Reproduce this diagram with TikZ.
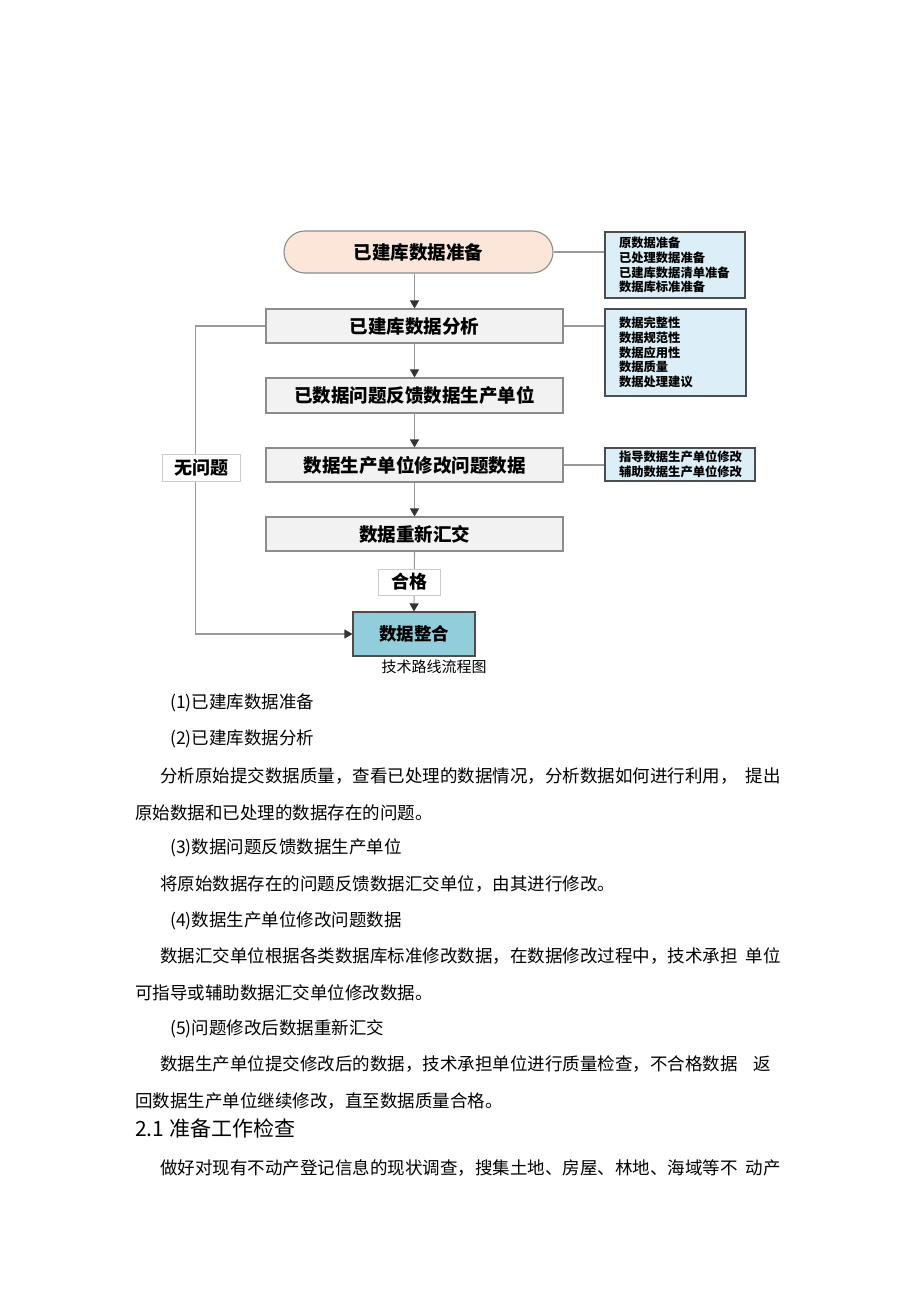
\documentclass[tikz,border=0pt]{standalone}
\usepackage{fontspec}
\setmainfont{Noto Sans CJK SC}
\usetikzlibrary{arrows.meta}
\definecolor{pinkfill}{HTML}{FCE6DA}
\definecolor{boxfill}{HTML}{F2F2F2}
\definecolor{boxline}{HTML}{8C8C8C}
\definecolor{notefill}{HTML}{DCEEF7}
\definecolor{noteline}{HTML}{4D4D4D}
\definecolor{endfill}{HTML}{92CDDC}
\definecolor{conn}{HTML}{999999}
\tikzset{
  stepbox/.style={draw=boxline, line width=1.1pt, fill=boxfill, minimum width=297pt, minimum height=34pt, inner sep=0pt, font=\fontsize{18.5}{20}\selectfont\bfseries},
  startbox/.style={draw=boxline, line width=1.1pt, fill=pinkfill, rounded corners=21pt, minimum width=269pt, minimum height=42pt, inner sep=0pt, font=\fontsize{18.5}{20}\selectfont\bfseries},
  endbox/.style={draw=noteline, line width=1.1pt, fill=endfill, minimum width=122pt, minimum height=44pt, inner sep=0pt, font=\fontsize{17.5}{20}\selectfont\bfseries},
  notebox/.style={draw=noteline, line width=1.1pt, fill=notefill, align=left, inner xsep=14pt, inner ysep=0pt, font=\fontsize{12.3}{14.8}\selectfont\bfseries},
  tagbox/.style={draw=black!20, line width=0.8pt, fill=white, inner sep=0pt, font=\fontsize{18}{20}\selectfont\bfseries},
  arr/.style={draw=conn, line width=1.1pt, -{Triangle[length=8pt,width=9pt,color=black!80]}},
  link/.style={draw=conn, line width=1.1pt},
  body/.style={anchor=base west, inner sep=0pt, font=\fontsize{17.5}{20}\selectfont},
  bodyr/.style={anchor=base east, inner sep=0pt, font=\fontsize{17.5}{20}\selectfont}
}
\begin{document}
\begin{tikzpicture}[x=1pt,y=-1pt]
\fill[white] (0,0) rectangle (920,1303);
\useasboundingbox (0,0) rectangle (920,1303);

% main flow
\node[startbox] (b1) at (418.5,252) {已建库数据准备};
\node[stepbox] (b2) at (414.5,326) {已建库数据分析};
\node[stepbox, minimum height=35pt] (b3) at (414.5,395.5) {已数据问题反馈数据生产单位};
\node[stepbox] (b4) at (414.5,465) {数据生产单位修改问题数据};
\node[stepbox] (b5) at (414.5,534) {数据重新汇交};
\node[endbox] (b6) at (414,634) {数据整合};

% notes
\node[notebox, text width=112pt, minimum height=66pt] (r1) at (675,265) {原数据准备\\已处理数据准备\\已建库数据清单准备\\数据库标准准备};
\node[notebox, text width=113pt, minimum height=87pt] (r2) at (675.5,352.5) {数据完整性\\数据规范性\\数据应用性\\数据质量\\数据处理建议};
\node[notebox, text width=122pt, minimum height=33pt] (r3) at (680,464.5) {指导数据生产单位修改\\辅助数据生产单位修改};

\draw[link] (b1.east) -- (b1.east -| r1.west);
\draw[link] (b2.east) -- (b2.east -| r2.west);
\draw[link] (b4.east) -- (b4.east -| r3.west);

% arrows
\draw[arr] (b2.north |- b1.south) -- (b2.north);
\draw[arr] (b2.south) -- (b3.north);
\draw[arr] (b3.south) -- (b4.north);
\draw[arr] (b4.south) -- (b5.north);
\draw[arr] (b5.south) -- (b6.north);
\draw[arr] (b2.west) -- ++(-70,0) |- (b6.west);

% labels on connectors
\node[tagbox, minimum width=78pt, minimum height=27pt] (t1) at (201,468) {无问题};
\node[tagbox, minimum width=62pt, minimum height=26pt] (t2) at (409,582) {合格};

% caption
\node[inner sep=0pt, font=\fontsize{15}{16}\selectfont] (cap) at (434,667) {技术路线流程图};

% body text
\node[body] (p1) at (170,708) {(1)已建库数据准备};
\node[body] (p2) at (170,744) {(2)已建库数据分析};
\node[body] (p3) at (160,782) {分析原始提交数据质量，查看已处理的数据情况，分析数据如何进行利用，};
\node[bodyr] (p3b) at (781,782) {提出};
\node[body] (p4) at (135,819) {原始数据和已处理的数据存在的问题。};
\node[body] (p5) at (170,853) {(3)数据问题反馈数据生产单位};
\node[body] (p6) at (160,890) {将原始数据存在的问题反馈数据汇交单位，由其进行修改。};
\node[body] (p7) at (170,926) {(4)数据生产单位修改问题数据};
\node[body] (p8) at (160,962) {数据汇交单位根据各类数据库标准修改数据，在数据修改过程中，技术承担};
\node[bodyr] (p8b) at (781,962) {单位};
\node[body] (p9) at (135,999) {可指导或辅助数据汇交单位修改数据。};
\node[body] (p10) at (170,1034) {(5)问题修改后数据重新汇交};
\node[body] (p11) at (160,1070) {数据生产单位提交修改后的数据，技术承担单位进行质量检查，不合格数据};
\node[bodyr] (p11b) at (771,1070) {返};
\node[body] (p12) at (135,1107) {回数据生产单位继续修改，直至数据质量合格。};
\node[body, font=\fontsize{21}{22}\selectfont] (h1) at (135,1136) {2.1 准备工作检查};
\node[body] (p13) at (160,1174) {做好对现有不动产登记信息的现状调查，搜集土地、房屋、林地、海域等不};
\node[bodyr] (p13b) at (781,1174) {动产};
\end{tikzpicture}
\end{document}
